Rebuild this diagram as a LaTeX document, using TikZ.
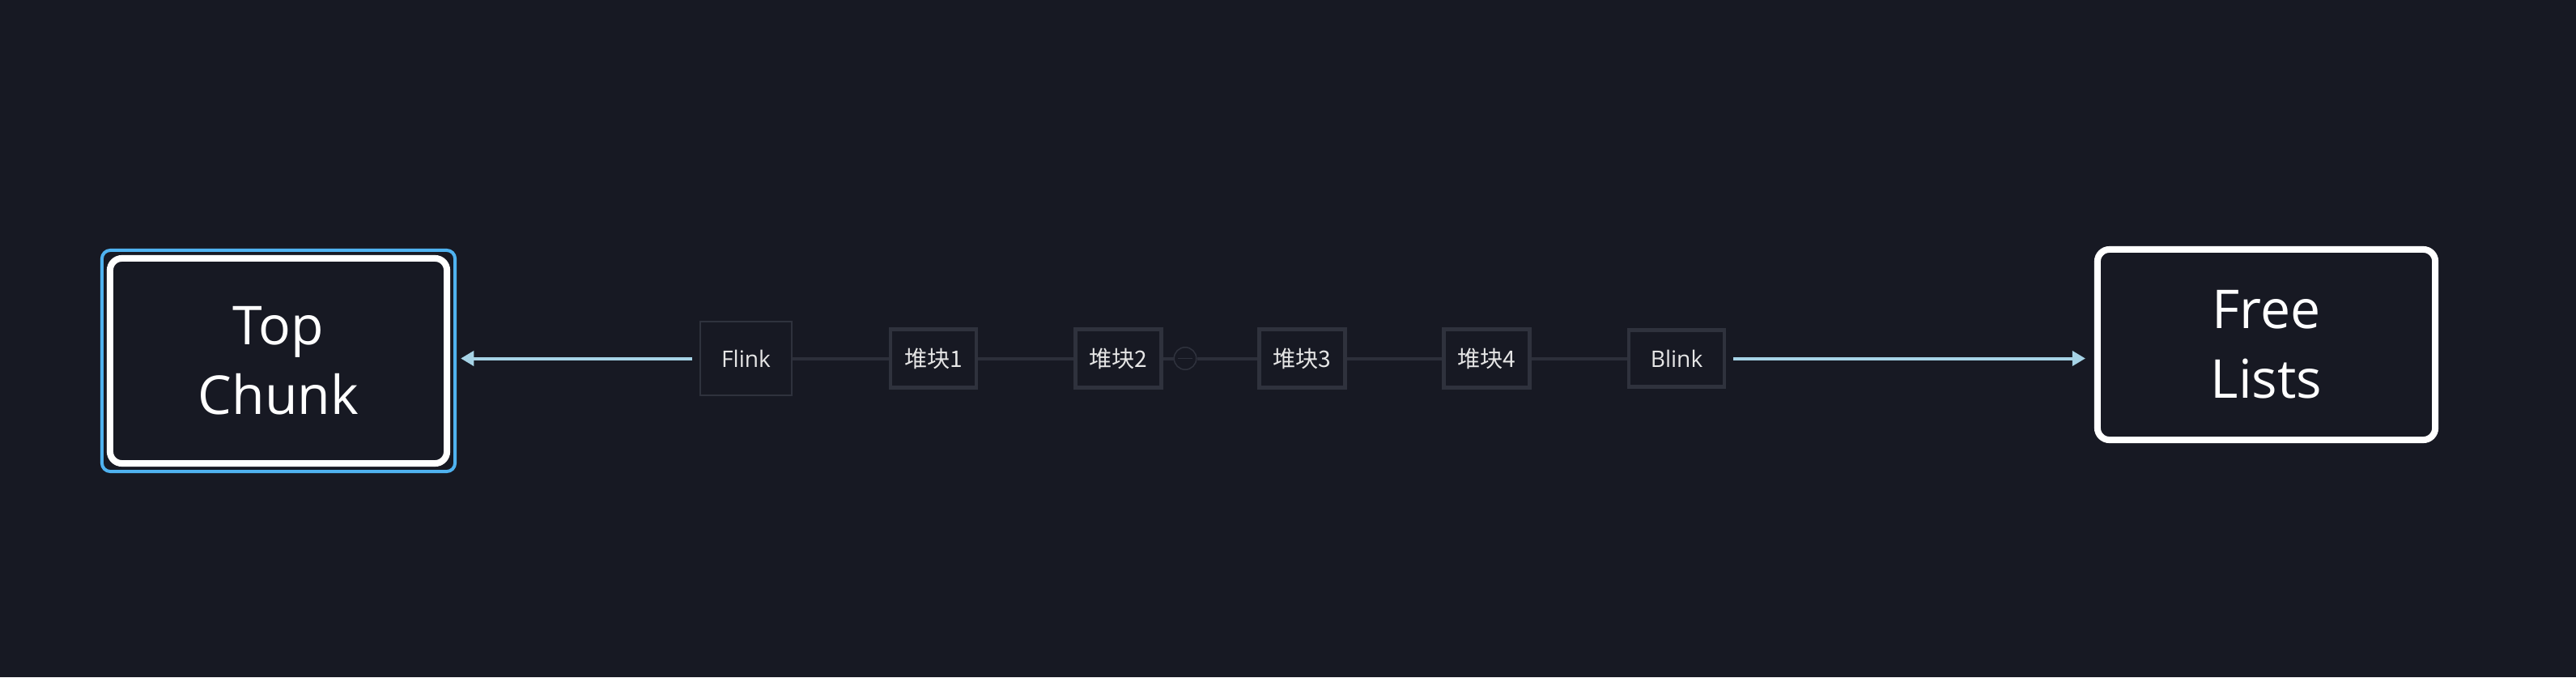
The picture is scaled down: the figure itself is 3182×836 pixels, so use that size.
\documentclass[tikz,border=0pt]{standalone}
\usepackage{fontspec}
\setmainfont{Open Sans}
\newfontfamily\cjk{Noto Sans CJK SC}
\usetikzlibrary{arrows.meta}
\definecolor{bg}{HTML}{171923}
\definecolor{selblue}{HTML}{4FB2F0}
\definecolor{arrowblue}{HTML}{A6D3E6}
\definecolor{boxgray}{HTML}{2F323D}
\definecolor{linegray}{HTML}{2C2F3A}
\definecolor{txt}{HTML}{E6E6E6}
\begin{document}
\begin{tikzpicture}[x=0.01cm,y=-0.01cm,
  bigbox/.style={draw=white, line width=2.28pt, rounded corners=4.2pt, fill=bg, text=white,
    align=center, inner sep=0pt, font=\fontsize{18.8pt}{24.4pt}\selectfont},
  selbox/.style={draw=selblue, line width=1.14pt, rounded corners=3pt, fill=bg, inner sep=0pt},
  linkbox/.style={draw=boxgray, line width=0.57pt, fill=bg, text=txt, inner sep=0pt,
    minimum width=1.13cm, minimum height=0.90cm, font=\fontsize{8pt}{10pt}\selectfont},
  chunkbox/.style={draw=boxgray, line width=1.2pt, fill=bg, text=txt, inner sep=0pt,
    minimum width=1.06cm, minimum height=0.72cm, font=\fontsize{8pt}{10pt}\selectfont},
  conn/.style={draw=linegray, line width=1.14pt},
  arr/.style={draw=arrowblue, line width=1.14pt, -{Triangle[length=4.6pt,width=5.1pt]}},
]
\fill[bg] (0,0) rectangle (3182,836);
\useasboundingbox (0,0) rectangle (3182,836);

% big boxes
\node[selbox, minimum width=4.36cm, minimum height=2.73cm] (topsel) at (344,445.5) {};
\node[bigbox, minimum width=4.16cm, minimum height=2.53cm] (top) at (344,445.5) {Top\\Chunk};
\node[bigbox, minimum width=4.17cm, minimum height=2.35cm] (free) at (2799.5,425.5) {Free\\Lists};

% chain
\node[linkbox] (flink) at (921.5,442.5) {Flink};
\node[chunkbox] (c1) at (1153,442.5) {\cjk 堆块1};
\node[chunkbox] (c2) at (1381.5,442.5) {\cjk 堆块2};
\node[circle, draw=boxgray, line width=0.43pt, minimum size=0.275cm, inner sep=0pt, fill=bg] (knot) at (1464,442.5) {};
\node[chunkbox] (c3) at (1608.5,442.5) {\cjk 堆块3};
\node[chunkbox] (c4) at (1836.5,442.5) {\cjk 堆块4};
\node[chunkbox, minimum width=1.18cm, minimum height=0.70cm] (blink) at (2071,442.5) {Blink};

\draw[boxgray, line width=0.43pt] ([xshift=-0.09cm]knot.center) -- ([xshift=0.09cm]knot.center);

\draw[conn] (flink) -- (c1);
\draw[conn] (c1) -- (c2);
\draw[conn] (c2) -- (knot);
\draw[conn] (knot) -- (c3);
\draw[conn] (c3) -- (c4);
\draw[conn] (c4) -- (blink);

% arrows
\draw[arr, shorten <=2.56pt, shorten >=1.42pt] (flink.west) -- (flink.west -| topsel.east);
\draw[arr, shorten <=2.56pt, shorten >=3.1pt] (blink.east) -- (blink.east -| free.west);
\end{tikzpicture}
\end{document}
